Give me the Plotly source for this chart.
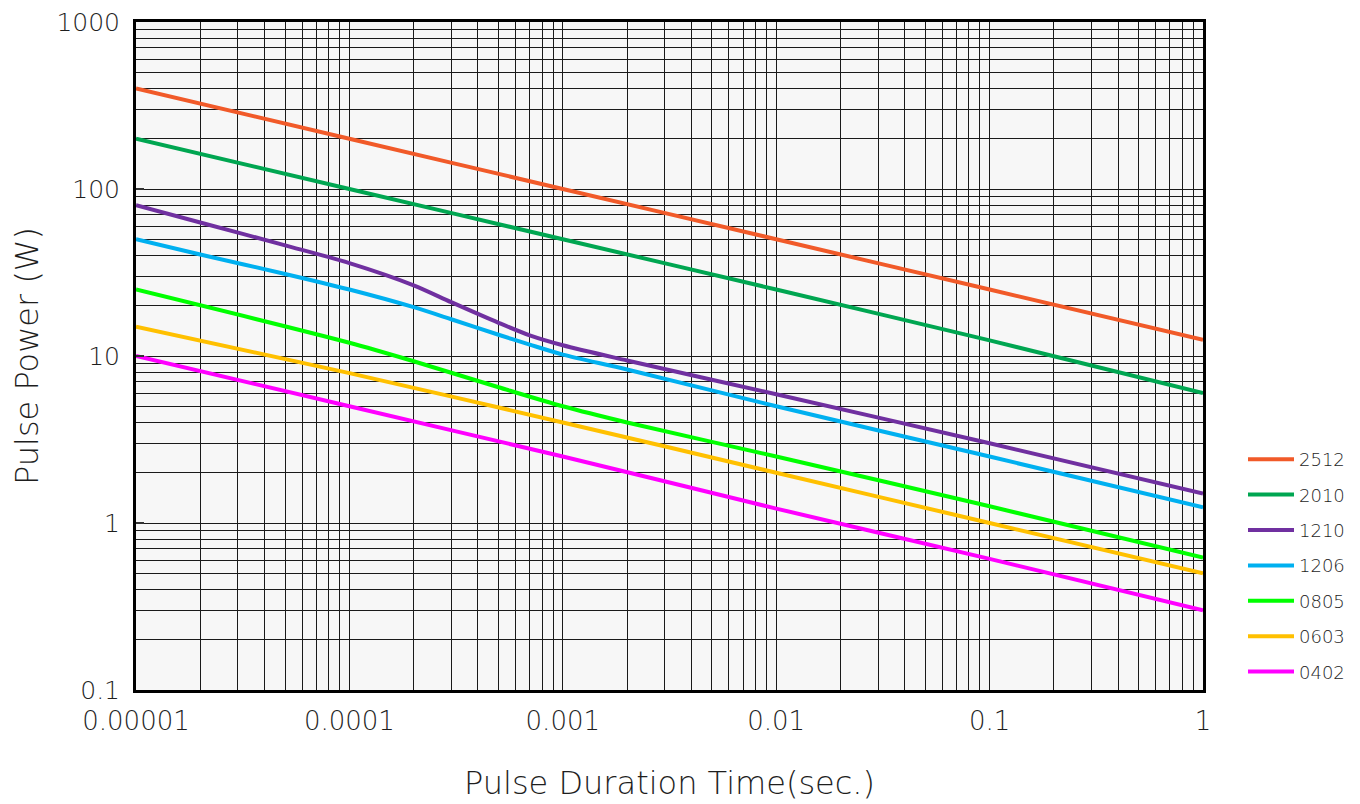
import plotly.graph_objects as go

# ---------------- data ----------------
series_names = ["2512", "2010", "1210", "1206", "0805", "0603", "0402"]
series_colors = ["#f15a29", "#00a651", "#7030a0", "#00b0f0", "#00ff00", "#ffc000", "#ff00ff"]

t_2512 = [1e-5, 1e-4, 1e-3, 1e-2, 1e-1, 1]
p_2512 = [400, 200, 100, 50, 25, 12.5]

t_2010 = [1e-5, 1e-4, 1e-3, 1e-2, 1e-1, 1]
p_2010 = [200, 100, 50, 25, 12.4, 6.0]

t_1210 = [1e-5, 2e-5, 5e-5, 1e-4, 2e-4, 3e-4, 5e-4, 7e-4, 1e-3, 2e-3, 1e-2, 1e-1, 1]
p_1210 = [80, 63, 46, 36, 26.5, 21, 15.8, 13.3, 11.6, 9.4, 5.9, 3.0, 1.5]

t_1206 = [1e-5, 2e-5, 5e-5, 1e-4, 2e-4, 3e-4, 5e-4, 7e-4, 1e-3, 2e-3, 1e-2, 1e-1, 1]
p_1206 = [50, 40.5, 31, 25, 19.6, 16.6, 13.4, 11.7, 10.2, 8.3, 5.0, 2.5, 1.24]

t_0805 = [1e-5, 1e-4, 2e-4, 5e-4, 1e-3, 2e-3, 1e-2, 1e-1, 1]
p_0805 = [25, 12, 9.3, 6.5, 5.0, 4.0, 2.5, 1.26, 0.62]

t_0603 = [1e-5, 1e-4, 1e-3, 1e-2, 1e-1, 1]
p_0603 = [15, 7.9, 4.0, 2.0, 1.0, 0.5]

t_0402 = [1e-5, 1e-4, 1e-3, 1e-2, 1e-1, 1]
p_0402 = [10, 5.0, 2.5, 1.22, 0.61, 0.3]

x_tick_vals = [1e-5, 1e-4, 1e-3, 1e-2, 1e-1, 1]
x_tick_text = ["0.00001", "0.0001", "0.001", "0.01", "0.1", "1"]
y_tick_vals = [0.1, 1, 10, 100, 1000]
y_tick_text = ["0.1", "1", "10", "100", "1000"]

x_title = "Pulse Duration Time(sec.)"
y_title = "Pulse Power (W)"

# ---------------- figure ----------------
all_t = [t_2512, t_2010, t_1210, t_1206, t_0805, t_0603, t_0402]
all_p = [p_2512, p_2010, p_1210, p_1206, p_0805, p_0603, p_0402]

FONT = "DejaVu Sans"
TXT = "#1e1e1e"

fig = go.Figure()
for name, color, tt, pp in zip(series_names, series_colors, all_t, all_p):
    fig.add_trace(go.Scatter(
        x=tt, y=pp, name=name, mode="lines",
        line=dict(color=color, width=4, shape="spline", smoothing=0.8),
        legendgroup=name,
    ))

minor_x = [m * 10 ** e for e in range(-5, 0) for m in range(2, 10)]
minor_y = [m * 10 ** e for e in range(-1, 3) for m in range(2, 10)]

fig.update_xaxes(
    type="log", range=[-5, 0], automargin=False,
    tickvals=x_tick_vals, ticktext=x_tick_text,
    tickfont=dict(family=FONT, size=26, color=TXT, weight=300),
    ticklabeloverflow="allow",
    showgrid=True, gridcolor="#1a1a1a", gridwidth=1,
    minor=dict(tickmode="array", tickvals=minor_x, showgrid=True,
               gridcolor="#1a1a1a", gridwidth=1),
    showline=True, linecolor="black", linewidth=3, mirror=True,
    ticks="", ticklabelstandoff=6,
    title=dict(text=x_title, font=dict(family=FONT, size=32, color=TXT, weight=300), standoff=37),
    zeroline=False,
)
fig.update_yaxes(
    type="log", range=[-1, 3], automargin=False,
    tickvals=y_tick_vals, ticktext=y_tick_text,
    tickfont=dict(family=FONT, size=25, color=TXT, weight=300),
    ticklabeloverflow="allow",
    showgrid=True, gridcolor="#1a1a1a", gridwidth=1,
    minor=dict(tickmode="array", tickvals=minor_y, showgrid=True,
               gridcolor="#1a1a1a", gridwidth=1),
    showline=True, linecolor="black", linewidth=3, mirror=True,
    ticks="inside", ticklen=8, tickcolor="#333333", tickwidth=2,
    ticklabelstandoff=8,
    title=dict(text=y_title, font=dict(family=FONT, size=32, color=TXT, weight=300), standoff=27),
    zeroline=False,
)

fig.update_layout(
    width=1360, height=804,
    margin=dict(l=128, r=165, t=14, b=122, autoexpand=False),
    paper_bgcolor="white", plot_bgcolor="#f7f7f7",
    showlegend=True,
    legend=dict(
        xref="container", yref="container",
        x=1235 / 1360, xanchor="left",
        y=(804 - 682) / 804, yanchor="bottom",
        font=dict(family=FONT, size=18, color=TXT, weight=300),
        bgcolor="rgba(0,0,0,0)", tracegroupgap=9,
        itemwidth=46,
        traceorder="grouped",
    ),
)

fig.write_html("out.html")
